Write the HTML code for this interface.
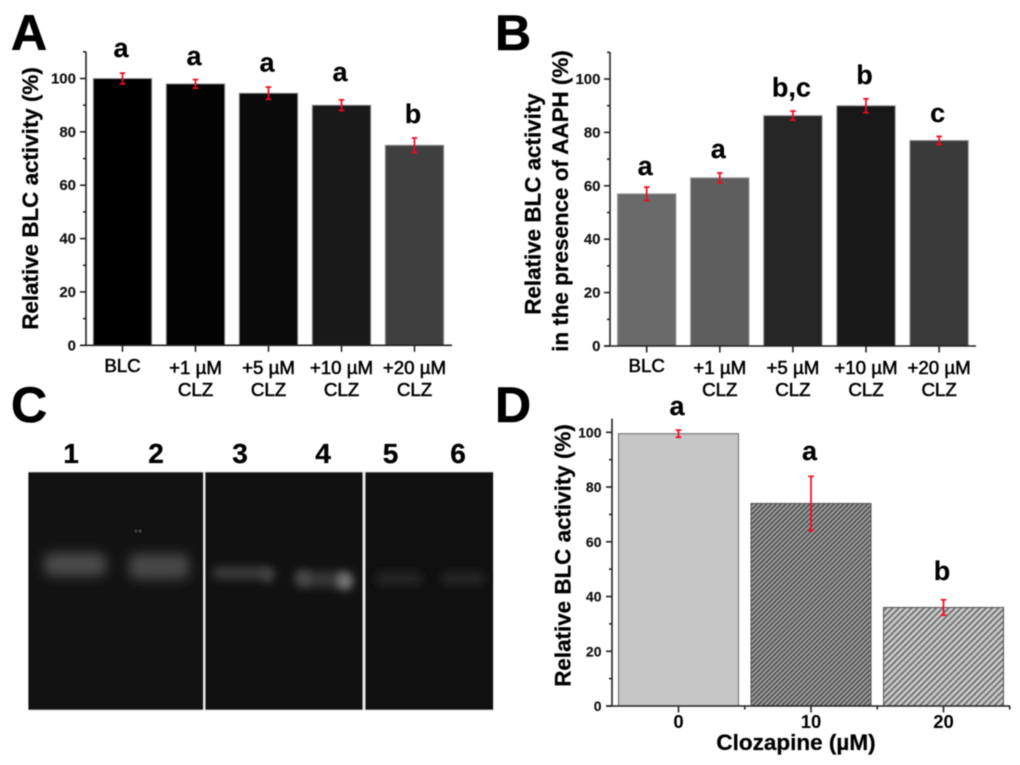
<!DOCTYPE html>
<html>
<head>
<meta charset="utf-8">
<style>
html,body{margin:0;padding:0;background:#fff;width:1020px;height:765px;overflow:hidden}
#figure{display:block;filter:blur(0.55px)}
text{font-family:"Liberation Sans",Arial,sans-serif;fill:#0c0c0c}
.panel-letter{font-size:50px;font-weight:bold;fill:#000;stroke:#000;stroke-width:.6px}
.tick{font-size:15px;font-weight:bold;fill:#111;stroke:#111;stroke-width:.15px}
.cat{font-size:18.7px;fill:#000;stroke:#000;stroke-width:.55px}
.cat-d{font-size:18.5px;font-weight:bold;fill:#000}
.title{font-size:22.4px;font-weight:bold;fill:#000;stroke:#000;stroke-width:.25px}
.sig{font-size:27px;font-weight:bold;fill:#000;stroke:#000;stroke-width:.2px}
.lane{font-size:28px;font-weight:bold;fill:#000;stroke:#000;stroke-width:.3px}
.axis{stroke:#222;stroke-width:1.6;fill:none}
.err{stroke:#f5081f;stroke-width:1.7;fill:none}
.bar{stroke:#a0a0a0;stroke-width:1}
.a0{fill:#000}.a1{fill:#030303}.a2{fill:#0a0a0a}.a3{fill:#191919}.a4{fill:#404040}
.b0{fill:#696969}.b1{fill:#5e5e5e}.b2{fill:#262626}.b3{fill:#181818}.b4{fill:#3a3a3a}
.d0{fill:#c6c6c6;stroke:#666}.d1{fill:url(#hatch-dense);stroke:#555}.d2{fill:url(#hatch-light);stroke:#555}
</style>
</head>
<body>
<svg id="figure" xmlns="http://www.w3.org/2000/svg" width="1020" height="765" viewBox="0 0 1020 765">
  <defs>
    <pattern id="hatch-dense" width="3.4" height="3.4" patternUnits="userSpaceOnUse" patternTransform="rotate(-45)">
      <rect width="3.4" height="3.4" fill="#a8a8a8"/>
      <rect width="3.4" height="1.9" fill="#555"/>
    </pattern>
    <pattern id="hatch-light" width="4.4" height="4.4" patternUnits="userSpaceOnUse" patternTransform="rotate(-45)">
      <rect width="4.4" height="4.4" fill="#c8c8c8"/>
      <rect width="4.4" height="1.6" fill="#666"/>
    </pattern>
    <filter id="blur-band" x="-50%" y="-200%" width="200%" height="500%"><feGaussianBlur stdDeviation="6"/></filter>
    <filter id="blur-soft" x="-100%" y="-200%" width="300%" height="500%"><feGaussianBlur stdDeviation="4.5"/></filter>
  </defs>

  <text class="panel-letter" x="11" y="50">A</text>
  <text class="panel-letter" x="495" y="50">B</text>
  <text class="panel-letter" x="11" y="422">C</text>
  <text class="panel-letter" x="495" y="422">D</text>

  <g id="panel-a"></g>
  <g id="panel-b"></g>
  <g id="panel-d"></g>

  <text class="title" transform="translate(38,198.5) rotate(-90)" text-anchor="middle">Relative BLC activity (%)</text>
  <text class="title" transform="translate(540.5,204) rotate(-90)" text-anchor="middle">Relative BLC activity</text>
  <text class="title" transform="translate(568,201) rotate(-90)" text-anchor="middle">in the presence of AAPH (%)</text>
  <text class="title" transform="translate(570.5,555.5) rotate(-90)" text-anchor="middle">Relative BLC activity (%)</text>
  <text class="title" x="796" y="750" text-anchor="middle" style="font-size:22.5px">Clozapine (µM)</text>

  <g>
    <rect x="28" y="471.5" width="465.5" height="239" fill="#c4c4c4"/>
    <rect x="28.5" y="472.5" width="174.5" height="237" fill="#121212"/>
    <rect x="205.5" y="472.5" width="157" height="237" fill="#111"/>
    <rect x="365.5" y="472.5" width="127.5" height="237" fill="#101010"/>
    <rect x="203" y="471.5" width="2.5" height="239" fill="#e8e8e8"/>
    <rect x="362.5" y="471.5" width="3" height="239" fill="#e8e8e8"/>
    <rect x="44" y="553" width="62" height="23" rx="8" fill="#4c4c4c" filter="url(#blur-band)"/>
    <rect x="129" y="554" width="60" height="25" rx="8" fill="#4a4a4a" filter="url(#blur-band)"/>
    <rect x="213" y="567" width="56" height="12" rx="5" fill="#3c3c3c" filter="url(#blur-soft)"/>
    <ellipse cx="268" cy="575" rx="6" ry="7" fill="#484848" filter="url(#blur-soft)"/>
    <rect x="298" y="572" width="48" height="15" rx="6" fill="#383838" filter="url(#blur-soft)"/>
    <ellipse cx="303" cy="578" rx="8" ry="8" fill="#484848" filter="url(#blur-soft)"/>
    <ellipse cx="345" cy="581" rx="8" ry="9" fill="#7a7a7a" filter="url(#blur-soft)"/>
    <rect x="376" y="571" width="46" height="15" rx="6" fill="#242424" filter="url(#blur-soft)"/>
    <rect x="441" y="571" width="44" height="15" rx="6" fill="#242424" filter="url(#blur-soft)"/>
    <circle cx="136" cy="531" r="1.6" fill="#3a3a3a"/>
    <circle cx="140" cy="531" r="1.6" fill="#454545"/>
  </g>
  <text class="lane" x="71" y="463" text-anchor="middle">1</text>
  <text class="lane" x="156" y="463" text-anchor="middle">2</text>
  <text class="lane" x="240" y="463" text-anchor="middle">3</text>
  <text class="lane" x="323" y="463" text-anchor="middle">4</text>
  <text class="lane" x="390.5" y="463" text-anchor="middle">5</text>
  <text class="lane" x="458" y="463" text-anchor="middle">6</text>
</svg>

<script>
// Panel A data
const categoriesA = ["BLC", "+1 µM\nCLZ", "+5 µM\nCLZ", "+10 µM\nCLZ", "+20 µM\nCLZ"];
const valuesA = [100, 98, 94.5, 90, 75];
const errorsA = [2, 1.6, 2.3, 2, 2.7];
const lettersA = ["a", "a", "a", "a", "b"];
const letterLevelsA = [108, 105, 102.6, 99, 83.3];

// Panel B data
const categoriesB = ["BLC", "+1 µM\nCLZ", "+5 µM\nCLZ", "+10 µM\nCLZ", "+20 µM\nCLZ"];
const valuesB = [57, 63, 86.3, 90, 77];
const errorsB = [2.5, 1.8, 1.7, 2.6, 1.5];
const lettersB = ["a", "a", "b,c", "b", "c"];
const letterLevelsB = [64, 70.4, 93.4, 98.1, 83.9];

// Panel D data
const categoriesD = ["0", "10", "20"];
const valuesD = [99.5, 74, 36];
const errorsD = [1.3, 9.9, 2.8];
const lettersD = ["a", "a", "b"];
const letterLevelsD = [106.3, 89.9, 46];

// Shared y-axis ticks
const yTickLabels = [0, 20, 40, 60, 80, 100];
const yMinorTicks = [10, 30, 50, 70, 90];

const SVG_NS = "http://www.w3.org/2000/svg";

function make(parent, tag, attrs, text) {
  const el = document.createElementNS(SVG_NS, tag);
  for (const k in attrs) el.setAttribute(k, attrs[k]);
  if (text !== undefined) el.textContent = text;
  parent.appendChild(el);
  return el;
}

function drawPanel(p, cats, vals, errs, letters, levels) {
  const g = document.getElementById(p.id);
  const y = v => p.y0 - v * p.pxPerUnit;
  const x = i => p.x0 + i * p.step;

  vals.forEach((v, i) => {
    const bar = make(g, "rect", {
      x: x(i) - p.barW / 2, y: y(v), width: p.barW, height: y(0) - y(v),
      class: "bar " + p.key + i
    });
    
    
  });

  const yAxis = make(g, "line", { x1: p.axisX, x2: p.axisX, y1: y(0), y2: y(p.yTop), class: "axis" });
  
  

  const xAxis = make(g, "line", { x1: p.axisX - 6, x2: p.axisEnd, y1: y(0), y2: y(0), class: "axis" });
  
  

  yTickLabels.forEach(t => {
    const tick = make(g, "line", { x1: p.axisX - 6, x2: p.axisX, y1: y(t), y2: y(t), class: "axis" });
    
    
    const label = make(g, "text", { x: p.labelX, y: y(t) + 5, "text-anchor": "end", class: "tick", style: p.tickStyle || "" }, String(t));
    
    
  });

  yMinorTicks.concat(p.extraMinor).forEach(t => {
    const tick = make(g, "line", { x1: p.axisX - 3, x2: p.axisX, y1: y(t), y2: y(t), class: "axis" });
    
    
  });

  cats.forEach((c, i) => {
    const tick = make(g, "line", { x1: x(i), x2: x(i), y1: y(0), y2: y(0) + 6.5, class: "axis" });
    
    

    c.split("\n").forEach((line, n) => {
      const single = c.indexOf("\n") < 0;
      const by = p.catY + n * p.catLine - (single && p.key !== "d" ? 2 : 0);
      const label = make(g, "text", { x: x(i), y: by, "text-anchor": "middle", class: p.key === "d" ? "cat-d" : "cat" }, line);
      
      
    });

    if (p.key === "d") {
      const minor = make(g, "line", { x1: x(i) + p.step / 2, x2: x(i) + p.step / 2, y1: y(0), y2: y(0) + 3.5, class: "axis" });
      
      
    }
  });

  vals.forEach((v, i) => {
    const cx = x(i);
    const stem = make(g, "line", { x1: cx, x2: cx, y1: y(v + errs[i]), y2: y(v - errs[i]), class: "err" });
    
    
    const capTop = make(g, "line", { x1: cx - 2.8, x2: cx + 2.8, y1: y(v + errs[i]), y2: y(v + errs[i]), class: "err" });
    
    
    const capBottom = make(g, "line", { x1: cx - 2.8, x2: cx + 2.8, y1: y(v - errs[i]), y2: y(v - errs[i]), class: "err" });
    
    

    const sig = make(g, "text", { x: cx - 1.5, y: y(levels[i]), "text-anchor": "middle", class: "sig" }, letters[i]);
    
    
  });
}

drawPanel({ id: "panel-a", key: "a", y0: 345.3, pxPerUnit: 2.668, yTop: 110, axisX: 86, axisEnd: 452, x0: 122.5, step: 73, barW: 58.5, labelX: 76, catY: 374, catLine: 22, extraMinor: [110] },
  categoriesA, valuesA, errorsA, lettersA, letterLevelsA);
drawPanel({ id: "panel-b", key: "b", y0: 346, pxPerUnit: 2.67, yTop: 110, axisX: 610, axisEnd: 976, x0: 646.7, step: 73.1, barW: 58.5, labelX: 600.5, catY: 374, catLine: 22, extraMinor: [110] },
  categoriesB, valuesB, errorsB, lettersB, letterLevelsB);
drawPanel({ id: "panel-d", key: "d", y0: 706, pxPerUnit: 2.737, yTop: 105, axisX: 612, axisEnd: 1010, x0: 678.5, step: 132.5, barW: 120, labelX: 601.5, tickStyle: "font-size:14px", catY: 728, catLine: 0, extraMinor: [] },
  categoriesD, valuesD, errorsD, lettersD, letterLevelsD);
</script>
</body>
</html>
